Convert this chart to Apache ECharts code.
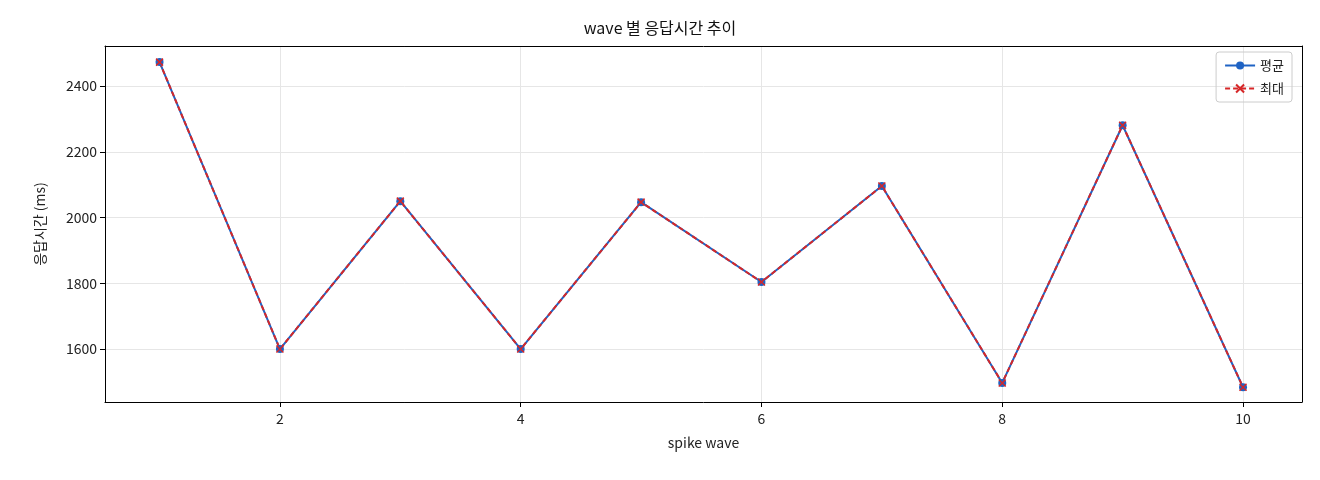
<!DOCTYPE html>
<html><head><meta charset="utf-8">
<script src="https://cdn.jsdelivr.net/npm/echarts@6/dist/echarts.min.js"></script>
<style>html,body{margin:0;padding:0;background:#fff}#c{width:1320px;height:480px}</style>
</head><body><div id="c"></div>
<script>
const waves = [1,2,3,4,5,6,7,8,9,10];
const avgValues = [2473,1600,2050,1600,2047,1804,2096,1497,2281,1484];
const maxValues = [2473,1600,2050,1600,2047,1804,2096,1497,2281,1484];
const xTicks = [2,4,6,8,10];
const yTicks = [1600,1800,2000,2200,2400];
const font = '"Noto Sans CJK KR", "DejaVu Sans", sans-serif';
const chart = echarts.init(document.getElementById('c'));
const axisCommon = {
  axisLine:{show:true, onZero:false, lineStyle:{color:'#000'}},
  axisTick:{show:true, inside:false, length:5, lineStyle:{color:'#000'}},
  axisLabel:{color:'#222', fontSize:14, fontFamily:font, formatter:v=>String(v)},
  splitLine:{show:true, lineStyle:{color:'#e6e6e6'}},
  nameTextStyle:{color:'#222', fontSize:14, fontFamily:font}
};
const frame = {type:'value', axisLine:{show:true, onZero:false, lineStyle:{color:'#000'}}, axisTick:{show:false}, axisLabel:{show:false}, splitLine:{show:false}};
chart.setOption({
  animation:false,
  title:{text:'wave 별 응답시간 추이', left:'center', top:15, textStyle:{fontSize:16, fontWeight:'normal', color:'#111', fontFamily:font}},
  grid:{left:105, right:18, top:46, bottom:78},
  legend:{right:28, top:52, orient:'vertical', itemGap:10, borderColor:'#ccc', borderWidth:1, borderRadius:3, padding:[7,8],
    textStyle:{fontSize:13, fontFamily:font, color:'#222'}, itemWidth:30, itemHeight:10,
    data:[{name:'평균'},{name:'최대'}]},
  xAxis:[Object.assign({}, axisCommon, {type:'value', min:0.547, max:10.49, name:'spike wave', nameLocation:'middle', nameGap:34,
    axisTick:Object.assign({}, axisCommon.axisTick, {customValues:xTicks}),
    axisLabel:Object.assign({}, axisCommon.axisLabel, {customValues:xTicks, margin:10})}),
    Object.assign({}, frame, {position:'top', min:0.547, max:10.49})],
  yAxis:[Object.assign({}, axisCommon, {type:'value', min:1439, max:2522, name:'응답시간 (ms)', nameLocation:'middle', nameGap:58,
    axisTick:Object.assign({}, axisCommon.axisTick, {customValues:yTicks}),
    axisLabel:Object.assign({}, axisCommon.axisLabel, {customValues:yTicks})}),
    Object.assign({}, frame, {position:'right', min:1439, max:2522})],
  series:[
    {name:'평균', type:'line', data:waves.map((w,i)=>[w,avgValues[i]]), symbol:'circle', symbolSize:8,
      itemStyle:{color:'#1f63c4'}, lineStyle:{color:'#1f63c4', width:2}},
    {name:'최대', type:'line', data:waves.map((w,i)=>[w,maxValues[i]]),
      symbol:'path://M0,0 L10,10 M10,0 L0,10', symbolSize:7,
      itemStyle:{color:'#d62728', borderColor:'#d62728', borderWidth:1.5}, lineStyle:{color:'#d62728', width:2, type:[5,3]}}
  ]
});
</script></body></html>
